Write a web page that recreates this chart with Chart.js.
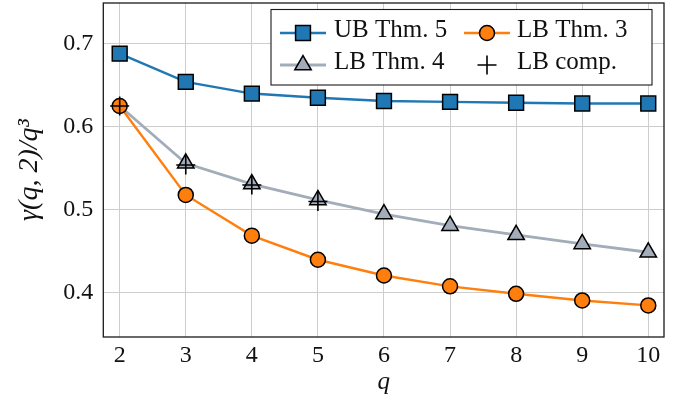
<!DOCTYPE html>
<html><head><meta charset="utf-8">
<script src="https://cdn.jsdelivr.net/npm/chart.js@4/dist/chart.umd.min.js"></script>
<style>html,body{margin:0;padding:0;background:#fff}#wrap{width:689px;height:407px}</style>
</head><body><div id="wrap"><canvas id="c" width="689" height="407"></canvas></div>
<script>
const qValues = [2, 3, 4, 5, 6, 7, 8, 9, 10];
const ubThm5 = [0.688, 0.654, 0.640, 0.635, 0.631, 0.630, 0.629, 0.628, 0.628];
const lbThm3 = [0.625, 0.518, 0.469, 0.440, 0.421, 0.408, 0.399, 0.391, 0.385];
const lbThm4 = [0.625, 0.556, 0.531, 0.512, 0.495, 0.481, 0.470, 0.459, 0.449];
const compQ = [2, 3, 4, 5];
const lbComp = [0.625, 0.554, 0.530, 0.510];
const xTicks = [2, 3, 4, 5, 6, 7, 8, 9, 10];
const yTicks = [0.4, 0.5, 0.6, 0.7];
const seriesNames = ['UB Thm. 5', 'LB Thm. 3', 'LB Thm. 4', 'LB comp.'];

const FONT = "'Liberation Serif', 'Times New Roman', serif";
const BLUE = '#1f77b4', ORANGE = '#ff7f0e', GRAY = '#a3acb9';

function pts(xs, ys) { return xs.map((x, i) => ({x: x, y: ys[i]})); }

function drawMarker(ctx, style, x, y, r, fill, stroke, lw) {
  ctx.save();
  ctx.lineWidth = lw; ctx.strokeStyle = stroke; ctx.fillStyle = fill;
  ctx.beginPath();
  if (style === 'rect') {
    const s = Math.SQRT1_2 * r;
    ctx.rect(x - s, y - s, 2 * s, 2 * s);
    ctx.fill(); ctx.stroke();
  } else if (style === 'circle') {
    ctx.arc(x, y, r, 0, Math.PI * 2);
    ctx.fill(); ctx.stroke();
  } else if (style === 'triangle') {
    for (let k = 0; k < 3; k++) {
      const a = k * 2 * Math.PI / 3;
      const px = x + Math.sin(a) * r, py = y - Math.cos(a) * r;
      if (k === 0) ctx.moveTo(px, py); else ctx.lineTo(px, py);
    }
    ctx.closePath(); ctx.fill(); ctx.stroke();
  } else if (style === 'cross') {
    ctx.moveTo(x - r, y); ctx.lineTo(x + r, y);
    ctx.moveTo(x, y - r); ctx.lineTo(x, y + r);
    ctx.stroke();
  }
  ctx.restore();
}

const framePlugin = {
  id: 'frame',
  afterDraw(chart) {
    const ctx = chart.ctx, a = chart.chartArea;
    ctx.save();
    ctx.strokeStyle = '#1a1a1a'; ctx.lineWidth = 1.3;
    ctx.strokeRect(a.left, a.top, a.right - a.left, a.bottom - a.top);
    // legend
    const bx = 271, by = 9.5, bw = 381, bh = 75.5;
    ctx.fillStyle = '#fff';
    ctx.fillRect(bx, by, bw, bh);
    ctx.strokeStyle = '#1a1a1a'; ctx.lineWidth = 1.1;
    ctx.strokeRect(bx, by, bw, bh);
    const slots = [
      {lx: 280, mx: 303, tx: 334, ty: 30, my: 33},
      {lx: 464, mx: 487, tx: 517, ty: 30, my: 33},
      {lx: 280, mx: 303, tx: 334, ty: 62, my: 65},
      {lx: 464, mx: 487, tx: 517, ty: 62, my: 65}
    ];
    chart.data.datasets.forEach((ds, i) => {
      const s = slots[i];
      if (ds.showLine !== false) {
        ctx.beginPath();
        ctx.strokeStyle = ds.borderColor; ctx.lineWidth = ds.borderWidth;
        ctx.moveTo(s.lx, s.my); ctx.lineTo(s.lx + 46, s.my); ctx.stroke();
      }
      drawMarker(ctx, ds.pointStyle, s.mx, s.my, ds.legendRadius, ds.pointBackgroundColor, ds.pointBorderColor, ds.pointBorderWidth);
      ctx.fillStyle = '#111';
      ctx.font = '25px ' + FONT;
      ctx.textBaseline = 'middle'; ctx.textAlign = 'left';
      ctx.fillText(ds.label, s.tx, s.ty);
    });
    ctx.restore();
  }
};

new Chart(document.getElementById('c'), {
  type: 'line',
  data: {
    datasets: [
      {label: seriesNames[0], data: pts(qValues, ubThm5), borderColor: BLUE, borderWidth: 2.4,
       pointStyle: 'rect', pointRadius: 10.5, legendRadius: 10.5, pointBackgroundColor: BLUE,
       pointBorderColor: '#000', pointBorderWidth: 1.5, order: 3},
      {label: seriesNames[1], data: pts(qValues, lbThm3), borderColor: ORANGE, borderWidth: 2.4,
       pointStyle: 'circle', pointRadius: 7.5, legendRadius: 7.5, pointBackgroundColor: ORANGE,
       pointBorderColor: '#000', pointBorderWidth: 1.5, order: 1},
      {label: seriesNames[2], data: pts(qValues, lbThm4), borderColor: GRAY, borderWidth: 2.8,
       pointStyle: 'triangle', pointRadius: (c) => c.dataIndex === 0 ? 0 : 9.5, legendRadius: 9.5,
       pointBackgroundColor: GRAY, pointBorderColor: '#000', pointBorderWidth: 1.5, order: 2},
      {label: seriesNames[3], data: pts(compQ, lbComp), showLine: false, borderColor: '#000', borderWidth: 1.5,
       pointStyle: 'cross', pointRadius: 9.5, legendRadius: 9.5, pointBackgroundColor: '#000',
       pointBorderColor: '#000', pointBorderWidth: 1.6, order: 0}
    ]
  },
  options: {
    responsive: false,
    devicePixelRatio: 1,
    animation: false,
    events: [],
    layout: {autoPadding: false, padding: {left: 0, right: 25, top: 3, bottom: 0}},
    elements: {line: {tension: 0}, point: {hoverRadius: 0}},
    datasets: {line: {clip: false}},
    plugins: {legend: {display: false}, tooltip: {enabled: false}},
    scales: {
      x: {
        type: 'linear', min: 1.752, max: 10.238,
        afterBuildTicks: (s) => { s.ticks = xTicks.map(v => ({value: v})); },
        afterFit: (s) => { s.height = 70; s.paddingLeft = 0; s.paddingRight = 0; },
        grid: {color: '#cdcdcd', lineWidth: 1, drawTicks: false},
        border: {display: false},
        ticks: {color: '#111', font: {family: FONT, size: 24}, padding: 4, maxRotation: 0,
                callback: (v) => String(v)},
        title: {display: true, text: 'q', color: '#111', font: {family: FONT, size: 25, style: 'italic'},
                padding: {top: 0, bottom: 10}}
      },
      y: {
        type: 'linear', min: 0.347, max: 0.749,
        afterBuildTicks: (s) => { s.ticks = yTicks.map(v => ({value: v})); },
        afterFit: (s) => { s.width = 103.3; s.paddingTop = 0; s.paddingBottom = 0; },
        grid: {color: '#cdcdcd', lineWidth: 1, drawTicks: false},
        border: {display: false},
        ticks: {color: '#111', font: {family: FONT, size: 24}, padding: 10,
                callback: (v) => v.toFixed(1)},
        title: {display: true, text: 'γ(q, 2)/q³', color: '#111', font: {family: FONT, size: 28, style: 'italic'},
                padding: {top: 13, bottom: 0}}
      }
    }
  },
  plugins: [framePlugin]
});
</script>
</body></html>
